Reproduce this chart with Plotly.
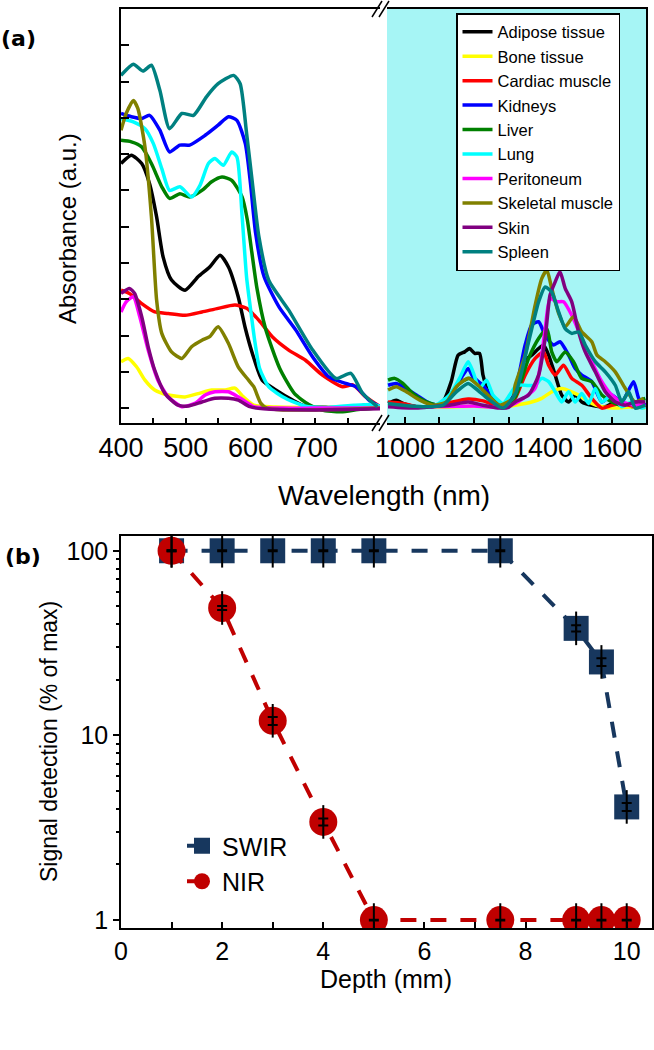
import plotly.graph_objects as go

# ---------------- Panel (a) data: absorbance spectra ----------------
tissues = ["Adipose tissue", "Bone tissue", "Cardiac muscle", "Kidneys", "Liver",
           "Lung", "Peritoneum", "Skeletal muscle", "Skin", "Spleen"]
colors = ["#000000", "#ffff00", "#ff0000", "#0000ff", "#008000",
          "#00ffff", "#ff00ff", "#808000", "#800080", "#008080"]

adipose_vis_wl = [400, 416, 432, 444, 455, 465, 478, 499, 519, 537, 553, 566, 581, 592, 603, 618, 639, 665, 685, 720, 760, 785, 800]
adipose_vis_ab = [6.74, 6.97, 6.74, 6.19, 5.27, 4.17, 3.53, 3.25, 3.62, 3.89, 4.21, 3.89, 3.07, 2.2, 1.5, 0.77, 0.50, 0.22, 0.05, 0.02, 0.03, 0.1, 0.05]
adipose_nir_wl = [951, 975, 994, 1033, 1081, 1110, 1134, 1154, 1173, 1187, 1202, 1216, 1226, 1245, 1274, 1303, 1319, 1343, 1367, 1401, 1416, 1435, 1454, 1474, 1493, 1512, 1541, 1580, 1609, 1657, 1696]
adipose_nir_ab = [0.13, 0.22, 0.13, 0.04, 0.04, 0.17, 0.73, 1.46, 1.55, 1.64, 1.51, 1.51, 0.91, 0.36, 0.08, 0.17, 0.45, 1.28, 1.46, 1.74, 1.46, 0.91, 0.36, 0.17, 0.36, 0.17, 0.08, 0.04, 0.17, 0.04, 0.08]

bone_vis_wl = [400, 411, 424, 437, 452, 473, 499, 519, 540, 561, 576, 589, 605, 640, 700, 800]
bone_vis_ab = [1.28, 1.37, 1.14, 0.77, 0.50, 0.36, 0.31, 0.40, 0.50, 0.50, 0.55, 0.31, 0.08, 0.03, 0.02, 0.02]
bone_nir_wl = [951, 1000, 1100, 1200, 1280, 1319, 1367, 1396, 1425, 1454, 1483, 1512, 1541, 1570, 1609, 1657, 1696]
bone_nir_ab = [0.05, 0.04, 0.03, 0.05, 0.03, 0.08, 0.17, 0.27, 0.45, 0.54, 0.45, 0.31, 0.13, 0.04, 0.0, 0.04, 0.0]

cardiac_vis_wl = [400, 413, 432, 452, 473, 499, 525, 550, 576, 594, 613, 634, 659, 685, 711, 742, 758, 778, 800]
cardiac_vis_ab = [3.25, 3.16, 2.88, 2.65, 2.61, 2.56, 2.65, 2.75, 2.84, 2.75, 2.42, 1.96, 1.60, 1.32, 0.91, 0.59, 0.64, 0.31, 0.04]
cardiac_nir_wl = [951, 994, 1033, 1091, 1129, 1183, 1226, 1274, 1300, 1319, 1348, 1377, 1401, 1416, 1435, 1459, 1483, 1512, 1541, 1570, 1599, 1628, 1667, 1696]
cardiac_nir_ab = [0.17, 0.13, 0.04, 0.06, 0.15, 0.25, 0.2, 0.05, 0.1, 0.27, 0.91, 1.37, 1.55, 1.18, 0.91, 1.18, 0.82, 0.63, 0.27, 0.0, 0.08, 0.12, 0.04, 0.05]

kidney_vis_wl = [400, 416, 432, 444, 460, 475, 491, 506, 530, 550, 566, 579, 592, 600, 608, 621, 644, 670, 696, 721, 747, 763, 783, 800]
kidney_vis_ab = [8.12, 8.03, 7.98, 8.07, 7.66, 7.06, 7.25, 7.25, 7.52, 7.80, 8.03, 7.93, 7.29, 6.19, 4.81, 3.62, 2.79, 2.15, 1.41, 0.86, 0.68, 0.59, 0.22, 0.04]
kidney_nir_wl = [951, 975, 1004, 1033, 1072, 1110, 1139, 1168, 1183, 1197, 1226, 1255, 1284, 1313, 1348, 1367, 1387, 1406, 1430, 1449, 1474, 1493, 1512, 1541, 1570, 1599, 1628, 1662, 1677, 1696]
kidney_nir_ab = [0.63, 0.68, 0.54, 0.36, 0.13, 0.08, 0.45, 0.91, 1.09, 0.86, 0.63, 0.27, 0.08, 0.3, 1.74, 2.29, 2.38, 2.01, 1.74, 1.83, 1.46, 1.09, 0.91, 0.73, 0.17, 0.36, 0.17, 0.73, 0.27, 0.08]

liver_vis_wl = [400, 416, 432, 447, 463, 475, 491, 506, 525, 540, 556, 571, 587, 595, 602, 610, 623, 645, 668, 690, 710, 740, 770, 800]
liver_vis_ab = [7.38, 7.34, 7.20, 6.74, 6.10, 5.78, 5.91, 5.82, 6.0, 6.24, 6.37, 6.28, 5.82, 5.2, 4.3, 3.3, 2.2, 1.1, 0.4, 0.1, -0.05, -0.1, -0.03, 0.0]
liver_nir_wl = [951, 970, 994, 1023, 1062, 1100, 1129, 1158, 1187, 1216, 1245, 1274, 1303, 1319, 1358, 1387, 1411, 1425, 1440, 1464, 1488, 1512, 1541, 1570, 1599, 1628, 1667, 1696]
liver_nir_ab = [0.77, 0.82, 0.68, 0.40, 0.17, 0.08, 0.36, 0.68, 0.82, 0.59, 0.31, 0.08, 0.17, 0.3, 1.37, 1.92, 2.19, 1.55, 1.28, 1.55, 1.28, 0.82, 0.73, 0.36, 0.17, 0.08, 0.17, 0.27]

lung_vis_wl = [400, 419, 437, 450, 463, 475, 491, 509, 522, 535, 545, 558, 571, 579, 587, 594, 601, 607, 614, 628, 654, 685, 720, 760, 790, 800]
lung_vis_ab = [7.98, 7.89, 7.70, 7.29, 6.60, 6.0, 6.10, 5.82, 6.14, 6.74, 6.88, 6.69, 7.06, 6.92, 5.3, 3.6, 2.6, 1.8, 1.1, 0.59, 0.27, 0.05, 0.02, 0.08, 0.1, 0.05]
lung_nir_wl = [951, 1033, 1081, 1129, 1158, 1183, 1197, 1216, 1236, 1255, 1284, 1303, 1323, 1348, 1377, 1396, 1416, 1435, 1454, 1474, 1493, 1512, 1532, 1551, 1570, 1599, 1628, 1657, 1686, 1696]
lung_nir_ab = [0.08, 0.04, 0.04, 0.36, 0.82, 1.28, 1.0, 0.54, 0.77, 0.36, 0.13, 0.36, 0.63, 0.63, 0.63, 0.82, 0.73, 0.45, 0.17, 0.45, 0.17, 0.40, 0.13, 0.54, 0.17, 0.36, 0.04, 0.17, 0.0, 0.02]

perit_vis_wl = [400, 408, 419, 429, 442, 457, 473, 494, 514, 530, 545, 566, 581, 597, 605, 650, 700, 800]
perit_vis_ab = [2.65, 2.93, 3.07, 2.52, 1.60, 0.77, 0.31, 0.04, 0.13, 0.36, 0.45, 0.45, 0.31, 0.13, 0.04, 0.0, 0.0, 0.0]
perit_nir_wl = [951, 1050, 1150, 1200, 1280, 1319, 1377, 1406, 1420, 1440, 1459, 1483, 1512, 1541, 1570, 1599, 1628, 1667, 1696]
perit_nir_ab = [0.06, 0.04, 0.05, 0.06, 0.02, 0.13, 0.55, 2.19, 3.02, 2.93, 2.93, 2.56, 1.92, 1.28, 0.73, 0.36, 0.17, 0.08, 0.12]

skel_vis_wl = [400, 408, 419, 426, 437, 447, 455, 463, 478, 494, 509, 525, 537, 550, 566, 581, 597, 605, 616, 625, 650, 700, 750, 800]
skel_vis_ab = [7.66, 8.12, 8.48, 8.26, 7.20, 5.27, 2.98, 2.06, 1.55, 1.37, 1.69, 1.87, 1.97, 2.24, 1.78, 1.14, 0.77, 0.59, 0.13, 0.0, -0.05, -0.05, -0.03, 0.0]
skel_nir_wl = [951, 975, 1004, 1043, 1081, 1120, 1149, 1183, 1216, 1245, 1274, 1313, 1319, 1348, 1377, 1396, 1411, 1425, 1445, 1464, 1488, 1512, 1541, 1556, 1580, 1609, 1638, 1667, 1691]
skel_nir_ab = [0.50, 0.59, 0.45, 0.22, 0.08, 0.17, 0.59, 0.82, 0.59, 0.31, 0.08, 0.27, 0.63, 1.46, 2.84, 3.57, 3.80, 3.30, 2.61, 2.24, 2.52, 2.10, 1.83, 1.46, 1.28, 1.0, 0.54, 0.17, 0.27]

skin_vis_wl = [400, 413, 421, 432, 442, 452, 468, 488, 504, 525, 545, 566, 581, 599, 620, 700, 800]
skin_vis_ab = [3.16, 3.30, 3.16, 2.52, 1.69, 1.05, 0.40, 0.08, 0.06, 0.17, 0.27, 0.27, 0.22, 0.04, -0.02, -0.05, -0.02]
skin_nir_wl = [951, 1033, 1081, 1129, 1183, 1226, 1274, 1300, 1319, 1358, 1387, 1406, 1420, 1435, 1449, 1464, 1483, 1503, 1522, 1551, 1580, 1609, 1638, 1667, 1696]
skin_nir_ab = [0.04, 0.0, 0.04, 0.08, 0.17, 0.08, 0.0, 0.02, 0.17, 0.36, 0.91, 1.92, 3.11, 3.48, 3.76, 3.30, 2.93, 2.10, 1.55, 1.0, 0.45, 0.17, 0.08, 0.17, 0.17]

spleen_vis_wl = [400, 419, 434, 447, 460, 475, 494, 512, 532, 550, 574, 584, 594, 603, 613, 628, 659, 696, 732, 755, 773, 796]
spleen_vis_ab = [9.17, 9.48, 9.29, 9.45, 8.76, 7.70, 8.12, 8.07, 8.58, 8.94, 9.17, 8.94, 7.57, 6.19, 4.72, 3.53, 2.70, 1.60, 0.82, 0.96, 0.41, 0.04]
spleen_nir_wl = [951, 994, 1052, 1110, 1149, 1183, 1216, 1245, 1284, 1320, 1358, 1387, 1406, 1425, 1445, 1464, 1483, 1503, 1522, 1551, 1580, 1609, 1628, 1648, 1667, 1696]
spleen_nir_ab = [0.13, 0.08, 0.04, 0.08, 0.45, 0.68, 0.45, 0.22, 0.0, 0.4, 1.83, 2.93, 3.34, 3.20, 2.65, 2.19, 2.06, 2.10, 1.74, 1.28, 1.0, 0.63, 0.17, 0.45, 0.0, 0.08]

vis_wl = [adipose_vis_wl, bone_vis_wl, cardiac_vis_wl, kidney_vis_wl, liver_vis_wl,
          lung_vis_wl, perit_vis_wl, skel_vis_wl, skin_vis_wl, spleen_vis_wl]
vis_ab = [adipose_vis_ab, bone_vis_ab, cardiac_vis_ab, kidney_vis_ab, liver_vis_ab,
          lung_vis_ab, perit_vis_ab, skel_vis_ab, skin_vis_ab, spleen_vis_ab]
nir_wl = [adipose_nir_wl, bone_nir_wl, cardiac_nir_wl, kidney_nir_wl, liver_nir_wl,
          lung_nir_wl, perit_nir_wl, skel_nir_wl, skin_nir_wl, spleen_nir_wl]
nir_ab = [adipose_nir_ab, bone_nir_ab, cardiac_nir_ab, kidney_nir_ab, liver_nir_ab,
          lung_nir_ab, perit_nir_ab, skel_nir_ab, skin_nir_ab, spleen_nir_ab]

# ---------------- Panel (b) data: signal vs depth ----------------
depth_mm = [1, 2, 3, 4, 5, 7.5, 9, 9.5, 10]
swir_signal = [100, 100, 100, 100, 100, 100, 38, 25, 4.1]
swir_err = [0.5, 0.5, 0.5, 0.5, 0.5, 0.5, 1.5, 1.2, 0.2]
nir_signal = [100, 49, 12, 3.4, 1, 1, 1, 1, 1]
nir_err = [0.5, 1.2, 0.6, 0.15, 0.005, 0.005, 0.005, 0.005, 0.005]

W, H = 654, 1050
def fx(px):
    return px / W
def fy(py):
    return 1 - py / H

FONT = "Liberation Sans, Arial, sans-serif"

fig = go.Figure()

for i, name in enumerate(tissues):
    fig.add_trace(go.Scatter(x=vis_wl[i], y=vis_ab[i], mode="lines", name=name,
                             line=dict(color=colors[i], width=3.5, shape="spline", smoothing=0.6),
                             xaxis="x", yaxis="y", legend="legend"))
for i, name in enumerate(tissues):
    fig.add_trace(go.Scatter(x=nir_wl[i], y=nir_ab[i], mode="lines", name=name, showlegend=False,
                             line=dict(color=colors[i], width=3.5, shape="spline", smoothing=0.6),
                             xaxis="x2", yaxis="y2"))

SWIR_C = "#17375e"
NIR_C = "#c00000"
fig.add_trace(go.Scatter(x=depth_mm, y=swir_signal, mode="lines+markers", name="SWIR",
                         line=dict(color=SWIR_C, width=4, dash="16px,14px"),
                         marker=dict(symbol="square", size=25, color=SWIR_C),
                         xaxis="x3", yaxis="y3", legend="legend2"))
fig.add_trace(go.Scatter(x=depth_mm, y=nir_signal, mode="lines+markers", name="NIR",
                         line=dict(color=NIR_C, width=4, dash="16px,14px"),
                         marker=dict(symbol="circle", size=28, color=NIR_C),
                         xaxis="x3", yaxis="y3", legend="legend2"))
for sig, err in [(swir_signal, swir_err), (nir_signal, nir_err)]:
    fig.add_trace(go.Scatter(x=depth_mm, y=sig, mode="markers", showlegend=False,
                             marker=dict(symbol="line-ns", size=24, color="black",
                                         line=dict(color="black", width=2)),
                             error_y=dict(type="data", array=err, color="black",
                                          thickness=2, width=5),
                             xaxis="x3", yaxis="y3"))

def axstyle(size):
    return dict(showline=True, linecolor="black", linewidth=1.5, showgrid=False,
                zeroline=False, tickcolor="black", tickwidth=1.5, automargin=False,
                tickangle=0, tickfont=dict(family=FONT, size=size, color="black"))

fig.update_layout(
    width=W, height=H,
    margin=dict(l=0, r=0, t=0, b=0, autoexpand=False),
    paper_bgcolor="white", plot_bgcolor="rgba(0,0,0,0)",
    showlegend=True,
    xaxis=dict(domain=[fx(121), fx(380)], range=[400, 800], anchor="y",
               tickvals=[400, 500, 600, 700], ticks="inside", ticklen=5, mirror=True,
               minor=dict(tickvals=[450, 550, 650, 750], ticks="inside", ticklen=5,
                          tickcolor="black", tickwidth=1.5),
               **axstyle(27)),
    yaxis=dict(domain=[fy(423), fy(9)], range=[-0.41, 11.0], anchor="x",
               tickvals=list(range(0, 11)), ticks="inside", ticklen=8,
               showticklabels=False, **axstyle(27)),
    xaxis2=dict(domain=[fx(387), fx(646)], range=[948, 1698], anchor="y2",
                tickvals=[1000, 1200, 1400, 1600], ticks="inside", ticklen=6, mirror=True,
                minor=dict(tickvals=[1100, 1300, 1500, 1700], ticks="inside", ticklen=6,
                           tickcolor="black", tickwidth=1.5),
                **axstyle(27)),
    yaxis2=dict(domain=[fy(423), fy(9)], range=[-0.41, 11.0], anchor="x2", side="right",
                ticks="", showticklabels=False, **axstyle(27)),
    xaxis3=dict(domain=[fx(121), fx(652)], range=[0, 10.5], anchor="y3",
                dtick=2, tick0=0, ticks="inside", ticklen=6, mirror=True,
                minor=dict(dtick=1, ticks="inside", ticklen=6, tickcolor="black", tickwidth=1.5),
                **axstyle(25)),
    yaxis3=dict(domain=[fy(928), fy(536)], type="log", range=[-0.043, 2.08], anchor="x3",
                dtick=1, ticks="outside", ticklen=6, mirror=True,
                minor=dict(dtick="D1", ticks="outside", ticklen=3, tickcolor="black", tickwidth=1.5),
                **axstyle(25)),
    legend=dict(x=fx(456), y=fy(13), xanchor="left", yanchor="top",
                bgcolor="white", bordercolor="black", borderwidth=1.5,
                font=dict(family=FONT, size=16.5, color="black"), tracegroupgap=0),
    legend2=dict(x=fx(182), y=fy(823), xanchor="left", yanchor="top",
                 bgcolor="rgba(0,0,0,0)", borderwidth=0,
                 font=dict(family=FONT, size=25, color="black"), itemsizing="trace"),
)

# cyan background of the short-wave infrared window
fig.add_shape(type="rect", xref="x2 domain", yref="y2 domain", x0=0, x1=1, y0=0, y1=1,
              fillcolor="#a6f5f5", line=dict(width=0), layer="below")

# axis-break marks
for (xa, xb) in [(372, 382), (379, 389)]:
    for yc in (423, 9):
        fig.add_shape(type="line", xref="paper", yref="paper",
                      x0=fx(xa), y0=fy(yc + 8), x1=fx(xb), y1=fy(yc - 8),
                      line=dict(color="black", width=1.5))

# titles and panel labels
ann = [
    dict(text="Wavelength (nm)", x=fx(384), y=fy(495), size=28, angle=0),
    dict(text="Absorbance (a.u.)", x=fx(67), y=fy(229), size=24, angle=-90),
    dict(text="Depth (mm)", x=fx(386), y=fy(979), size=25, angle=0),
    dict(text="Signal detection (% of max)", x=fx(49), y=fy(742), size=23, angle=-90),
]
for a in ann:
    fig.add_annotation(text=a["text"], x=a["x"], y=a["y"], xref="paper", yref="paper",
                       showarrow=False, textangle=a["angle"], xanchor="center", yanchor="middle",
                       font=dict(family=FONT, size=a["size"], color="black"))
for lbl, px, py in [("(a)", -1, 38), ("(b)", 3, 556)]:
    fig.add_annotation(text="<b>" + lbl + "</b>", x=fx(px), y=fy(py), xref="paper", yref="paper",
                       showarrow=False, xanchor="left", yanchor="middle",
                       font=dict(family="DejaVu Sans", size=22, color="black"))

fig.write_html("out.html", config={"displayModeBar": False},
               post_script="document.body.style.margin='0';")
